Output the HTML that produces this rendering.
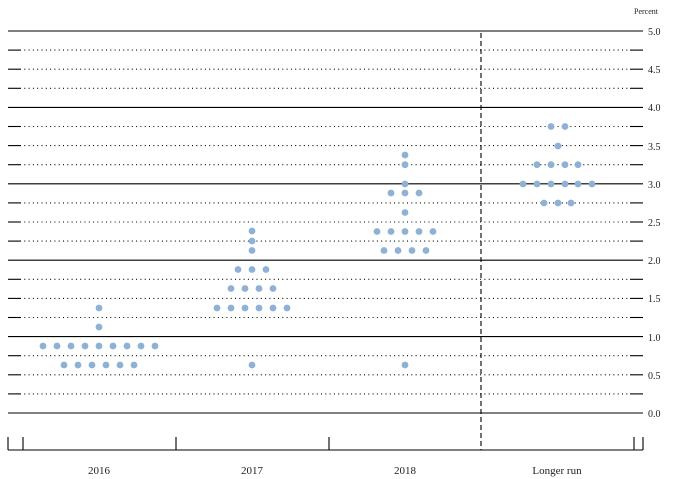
<!DOCTYPE html>
<html><head><meta charset="utf-8"><style>body{margin:0;background:#fff}svg{display:block}</style></head><body>
<svg width="675" height="479" viewBox="0 0 675 479" xmlns="http://www.w3.org/2000/svg" font-family="Liberation Serif, serif">
<g stroke="#000" stroke-width="1.1">
<line x1="8" y1="31" x2="643" y2="31"/>
<line x1="8" y1="107.4" x2="643" y2="107.4"/>
<line x1="8" y1="183.8" x2="643" y2="183.8"/>
<line x1="8" y1="260.2" x2="643" y2="260.2"/>
<line x1="8" y1="336.6" x2="643" y2="336.6"/>
<line x1="8" y1="413" x2="643" y2="413"/>
</g>
<g id="dl" stroke="#000" stroke-width="1.1"></g>
<script>
var g=document.getElementById('dl'),ns='http://www.w3.org/2000/svg';
for(var i=1;i<20;i++){if(i%4==0)continue;var y=31+i*19.1;
[[8,20],[630,643]].forEach(function(s){var l=document.createElementNS(ns,'line');l.setAttribute('x1',s[0]);l.setAttribute('x2',s[1]);l.setAttribute('y1',y);l.setAttribute('y2',y);g.appendChild(l);});
var l=document.createElementNS(ns,'line');l.setAttribute('x1',20);l.setAttribute('x2',630);l.setAttribute('y1',y);l.setAttribute('y2',y);l.setAttribute('stroke-dasharray','1 3.3');g.appendChild(l);}
</script>
<line x1="481" y1="33" x2="481" y2="450" stroke="#000" stroke-width="1.1" stroke-dasharray="5 3"/>
<g stroke="#000" stroke-width="1.1">
<line x1="8" y1="450" x2="643" y2="450"/>
<line x1="8" y1="437" x2="8" y2="450"/><line x1="23" y1="437" x2="23" y2="450"/>
<line x1="176" y1="437" x2="176" y2="450"/><line x1="329" y1="437" x2="329" y2="450"/>
<line x1="634" y1="437" x2="634" y2="450"/><line x1="643" y1="437" x2="643" y2="450"/>
</g>
<g font-size="10" fill="#222">
<text x="648" y="35">5.0</text><text x="648" y="73">4.5</text><text x="648" y="111">4.0</text>
<text x="648" y="150">3.5</text><text x="648" y="188">3.0</text><text x="648" y="226">2.5</text>
<text x="648" y="264">2.0</text><text x="648" y="302">1.5</text><text x="648" y="341">1.0</text>
<text x="648" y="379">0.5</text><text x="648" y="417">0.0</text>
<text x="634" y="14" font-size="8">Percent</text>
</g>
<g font-size="11" fill="#222" text-anchor="middle">
<text x="99" y="474">2016</text><text x="252" y="474">2017</text><text x="405" y="474">2018</text><text x="557" y="474">Longer run</text>
</g>
<g id="dots" fill="#8fb1d6"></g>
<script>
var d=document.getElementById('dots');
function row(y,xs){xs.forEach(function(x){var c=document.createElementNS(ns,'circle');c.setAttribute('cx',x);c.setAttribute('cy',y);c.setAttribute('r',3.4);d.appendChild(c);});}
row(308,[99]);row(327,[99]);row(346,[43,57,71,85,99,113,127,141,155]);row(365,[64,78,92,106,120,134]);
row(231,[252]);row(241,[252]);row(250.5,[252]);row(269.5,[238,252,266]);row(288.5,[231,245,259,273]);row(308,[217,231,245,259,273,287]);row(365,[252]);
row(155,[405]);row(164.7,[405]);row(184,[405]);row(193,[391,405,419]);row(212.5,[405]);row(231.5,[377,391,405,419,433]);row(250.5,[384,398,412,426]);row(365,[405]);
row(126.5,[551,565]);row(146,[558]);row(164.7,[537,551,565,578]);row(184,[523,537,551,565,578,592]);row(203,[544,558,571]);
</script>
</svg>
</body></html>
